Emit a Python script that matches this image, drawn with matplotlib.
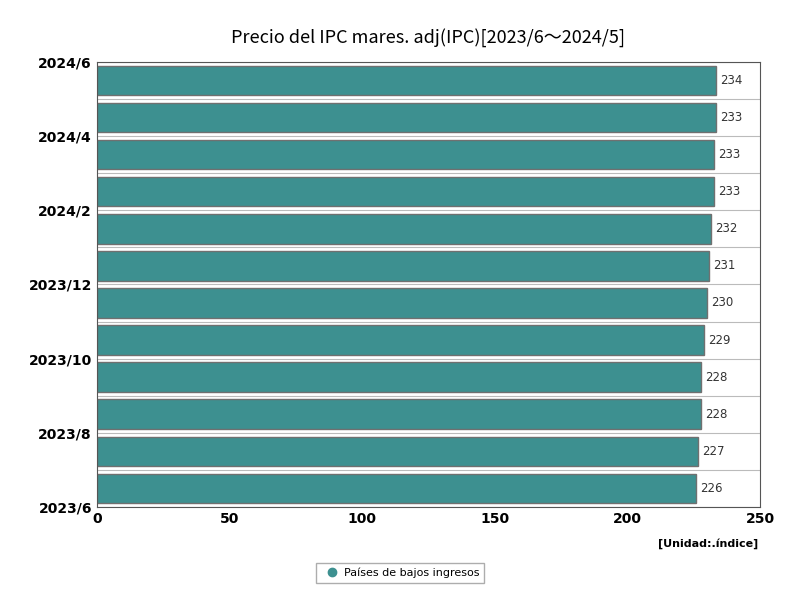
import matplotlib
matplotlib.use("Agg")
import matplotlib.pyplot as plt
import numpy as np

months = ["2023/6","2023/7","2023/8","2023/9","2023/10","2023/11","2023/12",
          "2024/1","2024/2","2024/3","2024/4","2024/5"]
values = [225.9, 226.8, 227.7, 227.9, 228.9, 229.9, 230.8, 231.6, 232.6, 232.8, 233.4, 233.6]
labels = ["226","227","228","228","229","230","231","232","233","233","233","234"]
tick_labels = ["2023/6","2023/8","2023/10","2023/12","2024/2","2024/4","2024/6"]

fig = plt.figure(figsize=(8, 6), dpi=100)
ax = fig.add_axes([0.121, 0.155, 0.829, 0.742])
y = np.arange(len(values))
ax.barh(y, values, height=0.8, color="#3d9090", edgecolor="#707070", linewidth=1, zorder=2,
        label="Países de bajos ingresos")
for yi, v, l in zip(y, values, labels):
    ax.text(v + 1.5, yi, l, va="center", ha="left", fontsize=8.5, color="#333333")
ax.set_xlim(0, 250)
ax.set_ylim(-0.5, len(values) - 0.5)
ax.set_yticks(np.arange(-0.5, len(values), 1), minor=True)
ax.yaxis.grid(True, which="both", color="#bbbbbb", linewidth=0.8, zorder=0)
ax.set_axisbelow(True)
ax.set_yticks(np.arange(-0.5, len(values) + 0.5, 2))
ax.set_yticklabels(tick_labels, fontweight="bold", fontsize=10)
ax.set_xticks([0, 50, 100, 150, 200, 250])
ax.tick_params(axis="x", labelsize=10, length=0)
for t in ax.get_xticklabels():
    t.set_fontweight("bold")
ax.tick_params(axis="y", length=0, which="both")
for s in ax.spines.values():
    s.set_color("#555555")
ax.set_title("Precio del IPC mares. adj(IPC)[2023/6～2024/5]", fontsize=13,
             fontfamily="Noto Sans CJK JP", pad=14)
fig.text(0.948, 0.088, "[Unidad:.índice]", ha="right", fontsize=8, fontweight="bold")
leg = fig.legend(handles=[plt.Line2D([], [], marker="o", color="#3d9090", linestyle="",
                 markersize=6)], labels=["Países de bajos ingresos"],
                 loc="center", bbox_to_anchor=(0.5, 0.045), fontsize=8, frameon=True,
                 edgecolor="#999999", fancybox=False, handletextpad=0.1)
fig.savefig("out.png")
